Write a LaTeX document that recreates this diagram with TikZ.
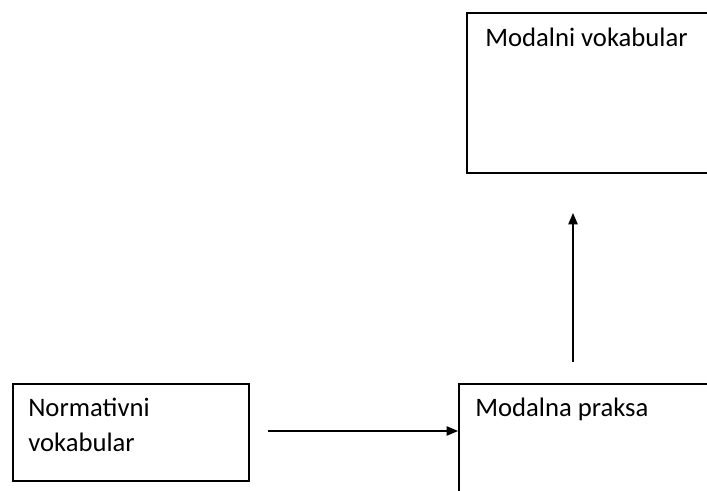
\documentclass[tikz,border=0pt]{standalone}
\usepackage{fontspec}
\setmainfont{Carlito}
\usetikzlibrary{arrows.meta}
\begin{document}
\begin{tikzpicture}[x=0.75pt,y=0.75pt,yscale=-1,
  box/.style={draw, line width=1.3pt, inner sep=0pt, anchor=north west},
  lbl/.style={anchor=base west, inner sep=0pt, align=left, font=\fontsize{20}{25.5}\selectfont},
  arr/.style={-{Triangle[length=8.5pt,width=7pt]}, line width=1pt}]
\useasboundingbox (0,0) rectangle (707,491);
\clip (0,0) rectangle (707,491);

%Shape: Rectangle
\node [box, minimum width=198pt, minimum height=120pt] (modvok) at (466,12) {};
%Shape: Rectangle
\node [box, minimum width=177pt, minimum height=72.75pt] (normvok) at (12,383) {};
%Shape: Rectangle
\node [box, minimum width=204pt, minimum height=95pt] (modpr) at (458,383) {};

% Text Node
\node [lbl] (modvoktxt) at (485,47) {Modalni vokabular};
% Text Node (base = last line)
\node [lbl] (normvoktxt) at (28,451) {Normativni\\vokabular};
% Text Node
\node [lbl] (modprtxt) at (475,417) {Modalna praksa};

%Straight Lines
\coordinate (h0) at (268,431);
\draw [arr] (h0) -- (h0 -| modpr.west);
%Straight Lines
\coordinate (v0) at (573,362);
\coordinate (v1) at (573,213);
\draw [arr] (v0) -- (v1);

\end{tikzpicture}
\end{document}
